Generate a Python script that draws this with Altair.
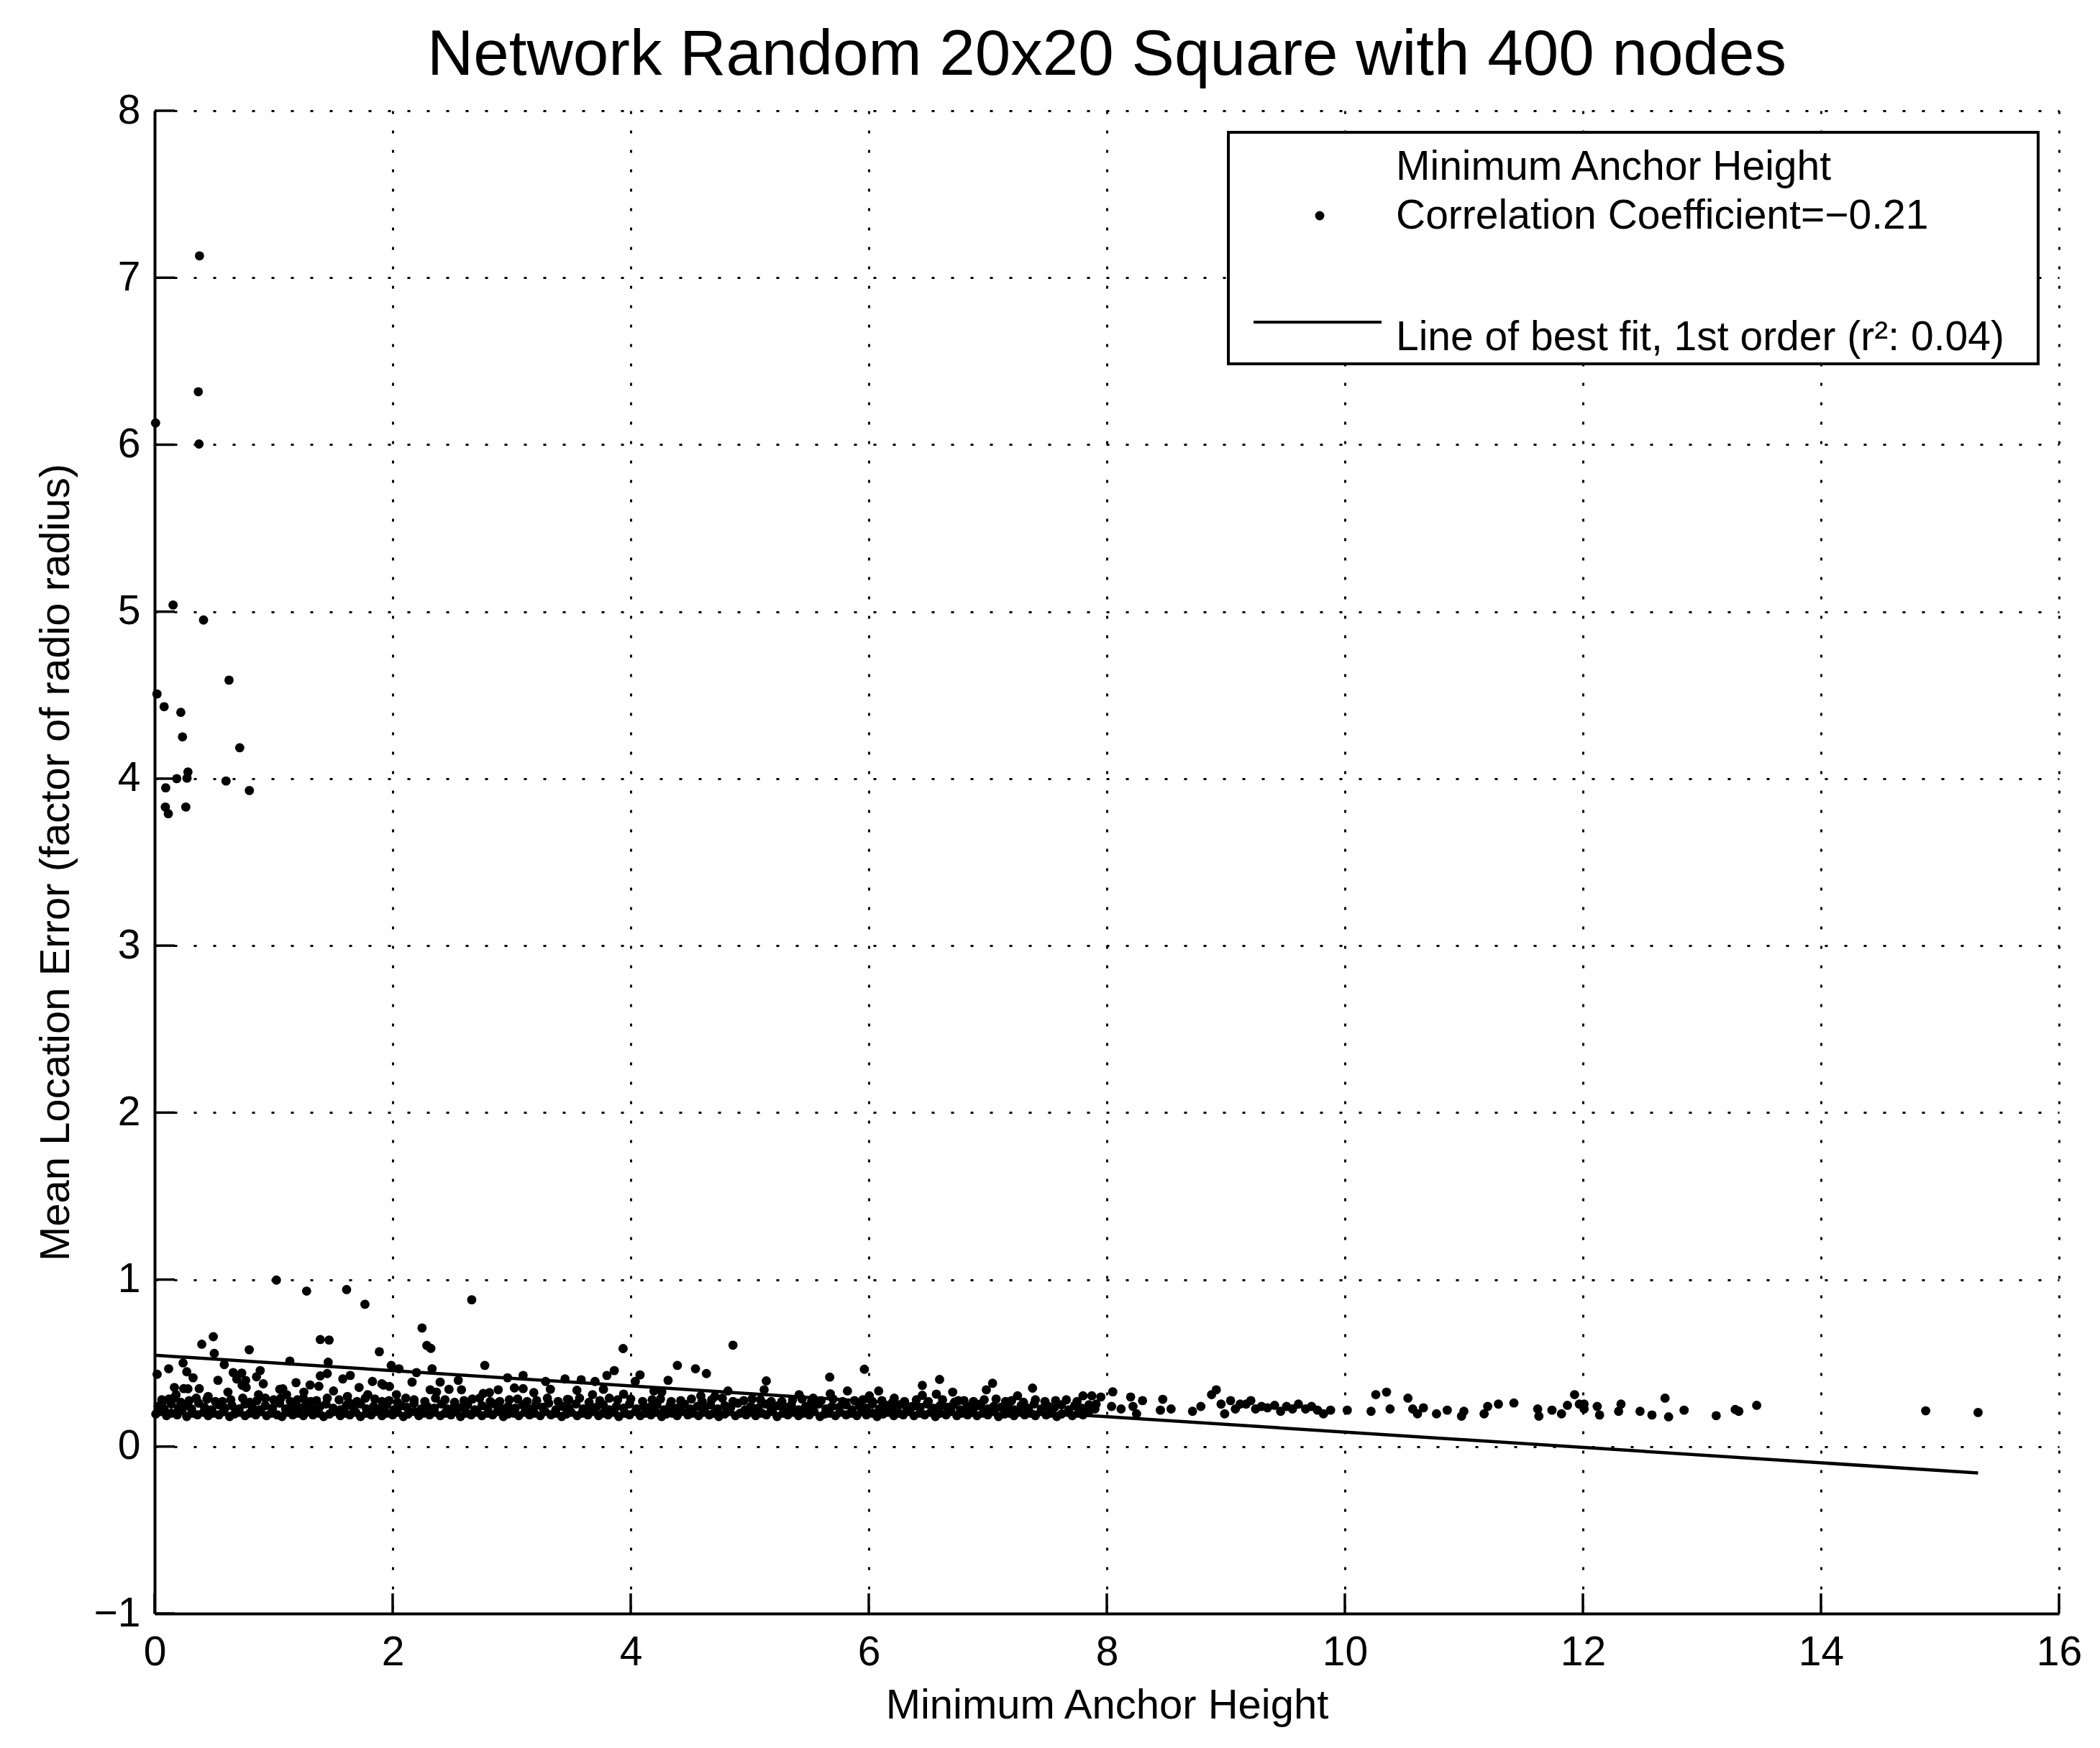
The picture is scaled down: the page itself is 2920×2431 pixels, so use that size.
import altair as alt
import pandas as pd

TITLE = "Network Random 20x20 Square with 400 nodes"
X_TITLE = "Minimum Anchor Height"
Y_TITLE = "Mean Location Error (factor of radio radius)"
LEG_1 = "Minimum Anchor Height"
LEG_2 = "Correlation Coefficient=\u22120.21"
LEG_3 = "Line of best fit, 1st order (r\u00b2: 0.04)"

x_ticks = [0, 2, 4, 6, 8, 10, 12, 14, 16]
y_ticks = [-1, 0, 1, 2, 3, 4, 5, 6, 7, 8]

# line of best fit end points
fit_x = [0.0, 15.32]
fit_y = [0.547, -0.158]

outlier_pts = [
    [0.377, 7.131], [0.367, 6.317], [0.008, 6.130], [0.373, 6.004], [0.155, 5.04],
    [0.411, 4.95], [0.625, 4.59], [0.02, 4.507], [0.08, 4.431], [0.22, 4.397],
    [0.234, 4.25], [0.715, 4.185], [0.28, 4.04], [0.186, 4.00], [0.272, 4.003],
    [0.60, 3.986], [0.093, 3.945], [0.796, 3.929], [0.09, 3.83], [0.262, 3.83],
    [0.115, 3.79],
]

mid_pts = [
    [1.023, 0.997], [1.277, 0.931], [1.613, 0.940], [1.767, 0.852], [2.664, 0.879],
    [2.247, 0.710], [0.493, 0.658], [0.396, 0.613], [1.392, 0.641], [1.466, 0.638],
    [2.287, 0.605], [2.321, 0.588], [0.795, 0.580], [0.501, 0.558], [1.888, 0.568],
    [3.936, 0.587], [1.136, 0.512], [2.774, 0.486], [0.585, 0.491], [0.239, 0.501],
    [1.458, 0.505], [1.988, 0.486], [0.118, 0.466], [0.021, 0.433], [0.27, 0.448],
    [0.66, 0.443], [0.732, 0.440], [0.887, 0.455], [1.45, 0.437], [2.053, 0.466],
    [2.20, 0.443], [2.331, 0.466], [3.862, 0.455], [3.80, 0.426], [0.323, 0.412],
    [1.392, 0.423], [1.644, 0.426], [1.581, 0.405], [1.83, 0.390], [2.965, 0.412],
    [3.096, 0.426], [3.448, 0.405], [3.584, 0.400], [3.70, 0.390], [3.285, 0.390],
    [0.532, 0.397], [0.69, 0.405], [0.913, 0.376], [1.188, 0.383], [1.306, 0.369],
    [1.38, 0.361], [1.909, 0.376], [2.163, 0.386], [2.399, 0.386], [2.551, 0.397],
    [0.166, 0.354], [1.718, 0.354], [0.769, 0.354], [1.254, 0.326], [1.052, 0.343],
    [1.503, 0.333], [2.887, 0.340], [3.023, 0.351], [3.096, 0.347], [2.578, 0.340],
    [2.473, 0.343], [3.186, 0.323], [3.325, 0.343], [3.548, 0.337], [3.771, 0.343],
    [0.616, 0.326], [0.244, 0.347], [0.375, 0.347], [2.032, 0.311], [2.761, 0.318],
    [2.813, 0.323], [3.94, 0.314], [2.315, 0.340], [2.368, 0.326], [0.06, 0.280],
    [1.109, 0.311], [0.873, 0.311], [1.791, 0.311], [3.469, 0.283], [3.679, 0.311],
    [0.735, 0.367], [0.765, 0.396], [0.856, 0.418], [1.077, 0.346], [1.923, 0.368],
    [1.973, 0.360], [0.28, 0.346], [0.18, 0.31], [0.45, 0.30], [1.62, 0.30],
    [4.859, 0.607], [4.392, 0.486], [4.544, 0.466], [4.636, 0.437], [4.314, 0.397],
    [4.078, 0.429], [4.038, 0.390], [5.139, 0.393], [5.672, 0.416], [5.963, 0.463],
    [6.45, 0.366], [6.595, 0.402], [7.04, 0.379], [6.988, 0.340], [7.376, 0.350],
    [6.45, 0.307], [6.568, 0.314], [6.705, 0.326], [4.817, 0.333], [5.121, 0.340],
    [5.415, 0.311], [5.677, 0.316], [5.821, 0.333], [6.083, 0.333], [6.005, 0.304],
    [7.25, 0.304], [7.80, 0.304], [7.874, 0.304], [4.195, 0.333], [4.261, 0.326],
    [4.589, 0.304], [4.707, 0.300], [5.533, 0.290], [6.214, 0.290], [6.752, 0.275],
]

band_low = [
    [0.01, 0.195], [0.05, 0.21], [0.10, 0.185], [0.14, 0.20], [0.19, 0.19], [0.23, 0.215], [0.27, 0.18], [0.32, 0.20], [0.36, 0.19], [0.41, 0.205],
    [0.45, 0.185], [0.49, 0.20], [0.54, 0.19], [0.58, 0.21], [0.63, 0.18], [0.67, 0.195], [0.71, 0.205], [0.76, 0.185], [0.80, 0.20], [0.85, 0.19],
    [0.89, 0.21], [0.94, 0.185], [0.98, 0.20], [1.03, 0.19], [1.07, 0.18], [1.11, 0.205], [1.16, 0.19], [1.20, 0.20], [1.25, 0.185], [1.29, 0.21],
    [1.33, 0.19], [1.38, 0.20], [1.42, 0.18], [1.47, 0.195], [1.51, 0.21], [1.56, 0.185], [1.60, 0.20], [1.64, 0.19], [1.69, 0.205], [1.73, 0.18],
    [1.78, 0.20], [1.82, 0.19], [1.87, 0.21], [1.91, 0.185], [1.95, 0.20], [2.00, 0.19], [2.04, 0.205], [2.09, 0.18], [2.13, 0.195], [2.18, 0.21],
    [2.22, 0.185], [2.26, 0.20], [2.31, 0.19], [2.35, 0.205], [2.40, 0.185], [2.44, 0.20], [2.49, 0.19], [2.53, 0.21], [2.57, 0.18], [2.62, 0.20],
    [2.66, 0.19], [2.71, 0.205], [2.75, 0.185], [2.80, 0.20], [2.84, 0.19], [2.88, 0.21], [2.93, 0.18], [2.97, 0.195], [3.02, 0.20], [3.06, 0.185],
    [3.11, 0.205], [3.15, 0.19], [3.19, 0.20], [3.24, 0.185], [3.28, 0.21], [3.33, 0.19], [3.37, 0.20], [3.42, 0.18], [3.46, 0.195], [3.50, 0.205],
    [3.55, 0.185], [3.59, 0.20], [3.64, 0.19], [3.68, 0.21], [3.73, 0.185], [3.77, 0.20], [3.81, 0.19], [3.86, 0.205], [3.90, 0.18], [3.95, 0.20],
    [3.99, 0.19], [4.04, 0.21], [4.08, 0.185], [4.12, 0.20], [4.17, 0.19], [4.21, 0.205], [4.26, 0.18], [4.30, 0.195], [4.35, 0.20], [4.39, 0.185],
    [4.43, 0.21], [4.48, 0.19], [4.52, 0.20], [4.57, 0.185], [4.61, 0.205], [4.66, 0.19], [4.70, 0.20], [4.74, 0.18], [4.79, 0.195], [4.83, 0.21],
    [4.88, 0.185], [4.92, 0.20], [4.97, 0.19], [5.01, 0.205], [5.05, 0.185], [5.10, 0.20], [5.14, 0.19], [5.19, 0.21], [5.23, 0.18], [5.28, 0.20],
    [5.32, 0.19], [5.36, 0.205], [5.41, 0.185], [5.45, 0.20], [5.50, 0.19], [5.54, 0.21], [5.59, 0.18], [5.63, 0.195], [5.67, 0.20], [5.72, 0.185],
    [5.76, 0.205], [5.81, 0.19], [5.85, 0.20], [5.90, 0.185], [5.94, 0.21], [5.98, 0.19], [6.03, 0.20], [6.07, 0.18], [6.12, 0.195], [6.16, 0.205],
    [6.21, 0.185], [6.25, 0.20], [6.29, 0.19], [6.34, 0.21], [6.38, 0.185], [6.43, 0.20], [6.47, 0.19], [6.52, 0.205], [6.56, 0.18], [6.60, 0.20],
    [6.65, 0.19], [6.69, 0.21], [6.74, 0.185], [6.78, 0.20], [6.83, 0.19], [6.87, 0.205], [6.91, 0.185], [6.96, 0.20], [7.00, 0.19], [7.05, 0.21],
    [7.09, 0.18], [7.14, 0.195], [7.18, 0.20], [7.22, 0.185], [7.27, 0.205], [7.31, 0.19], [7.36, 0.20], [7.40, 0.185], [7.45, 0.21], [7.49, 0.19],
    [7.53, 0.20], [7.58, 0.18], [7.62, 0.195], [7.67, 0.205], [7.71, 0.185], [7.76, 0.20], [7.80, 0.19], [7.85, 0.21],
]

band_mid = [
    [0.03, 0.24], [0.08, 0.225], [0.14, 0.255], [0.20, 0.23], [0.25, 0.245], [0.31, 0.225], [0.37, 0.26], [0.42, 0.235], [0.48, 0.22], [0.54, 0.25],
    [0.59, 0.23], [0.65, 0.245], [0.71, 0.225], [0.76, 0.255], [0.82, 0.235], [0.88, 0.22], [0.93, 0.245], [0.99, 0.23], [1.05, 0.26], [1.10, 0.225],
    [1.16, 0.24], [1.22, 0.23], [1.27, 0.25], [1.33, 0.225], [1.39, 0.24], [1.44, 0.255], [1.50, 0.23], [1.56, 0.22], [1.61, 0.245], [1.67, 0.235],
    [1.73, 0.255], [1.78, 0.225], [1.84, 0.24], [1.90, 0.23], [1.95, 0.25], [2.01, 0.22], [2.07, 0.245], [2.12, 0.235], [2.18, 0.26], [2.24, 0.225],
    [2.29, 0.24], [2.35, 0.23], [2.41, 0.255], [2.46, 0.225], [2.52, 0.24], [2.58, 0.235], [2.63, 0.25], [2.69, 0.22], [2.75, 0.245], [2.80, 0.23],
    [2.86, 0.255], [2.92, 0.225], [2.97, 0.24], [3.03, 0.23], [3.09, 0.25], [3.14, 0.225], [3.20, 0.245], [3.26, 0.235], [3.31, 0.26], [3.37, 0.22],
    [3.43, 0.24], [3.48, 0.23], [3.54, 0.255], [3.60, 0.225], [3.65, 0.245], [3.71, 0.235], [3.77, 0.25], [3.82, 0.22], [3.88, 0.24], [3.94, 0.23],
    [3.99, 0.255], [4.05, 0.225], [4.11, 0.24], [4.16, 0.235], [4.22, 0.25], [4.28, 0.22], [4.33, 0.245], [4.39, 0.23], [4.45, 0.255], [4.50, 0.225],
    [4.56, 0.24], [4.62, 0.23], [4.67, 0.25], [4.73, 0.225], [4.79, 0.245], [4.84, 0.235], [4.90, 0.26], [4.96, 0.22], [5.01, 0.24], [5.07, 0.23],
    [5.13, 0.255], [5.18, 0.225], [5.24, 0.245], [5.30, 0.235], [5.35, 0.25], [5.41, 0.22], [5.47, 0.24], [5.52, 0.23], [5.58, 0.255], [5.64, 0.225],
    [5.69, 0.24], [5.75, 0.235], [5.81, 0.25], [5.86, 0.22], [5.92, 0.245], [5.98, 0.23], [6.03, 0.255], [6.09, 0.225], [6.15, 0.24], [6.20, 0.235],
    [6.26, 0.25], [6.32, 0.22], [6.37, 0.24], [6.43, 0.23], [6.49, 0.255], [6.54, 0.225], [6.60, 0.245], [6.66, 0.235], [6.71, 0.25], [6.77, 0.22],
    [6.83, 0.24], [6.88, 0.23], [6.94, 0.255], [7.00, 0.225], [7.05, 0.24], [7.11, 0.235], [7.17, 0.25], [7.22, 0.22], [7.28, 0.245], [7.34, 0.23],
    [7.39, 0.255], [7.45, 0.225], [7.51, 0.24], [7.56, 0.235], [7.62, 0.25], [7.68, 0.22], [7.73, 0.245], [7.79, 0.23], [7.85, 0.25], [7.90, 0.225],
]

band_top = [
    [0.07, 0.27], [0.12, 0.285], [0.16, 0.29], [0.22, 0.265], [0.29, 0.275], [0.35, 0.29], [0.44, 0.285], [0.51, 0.27], [0.57, 0.27], [0.64, 0.28],
    [0.74, 0.29], [0.80, 0.265], [0.86, 0.275], [0.93, 0.29], [1.00, 0.28], [1.06, 0.29], [1.14, 0.27], [1.20, 0.28], [1.25, 0.29], [1.31, 0.27],
    [1.36, 0.275], [1.45, 0.29], [1.55, 0.28], [1.63, 0.265], [1.70, 0.27], [1.77, 0.29], [1.85, 0.285], [1.91, 0.27], [1.97, 0.275], [2.04, 0.265],
    [2.11, 0.29], [2.18, 0.28], [2.27, 0.27], [2.36, 0.29], [2.44, 0.28], [2.52, 0.265], [2.60, 0.275], [2.67, 0.285], [2.73, 0.29], [2.82, 0.27],
    [2.90, 0.27], [2.98, 0.28], [3.05, 0.285], [3.13, 0.27], [3.21, 0.275], [3.30, 0.29], [3.39, 0.27], [3.48, 0.28], [3.57, 0.29], [3.65, 0.265],
    [3.74, 0.275], [3.82, 0.29], [3.89, 0.28], [4.00, 0.285], [4.10, 0.27], [4.18, 0.28], [4.25, 0.285], [4.34, 0.27], [4.42, 0.275], [4.51, 0.285],
    [4.60, 0.27], [4.68, 0.28], [4.77, 0.29], [4.86, 0.27], [4.95, 0.275], [5.02, 0.285], [5.09, 0.28], [5.18, 0.27], [5.27, 0.27], [5.36, 0.28],
    [5.44, 0.285], [5.52, 0.27], [5.60, 0.275], [5.70, 0.285], [5.78, 0.27], [5.88, 0.275], [5.95, 0.28], [6.03, 0.27], [6.11, 0.275], [6.20, 0.265],
    [6.30, 0.27], [6.40, 0.28], [6.50, 0.27], [6.62, 0.28], [6.72, 0.265], [6.80, 0.275], [6.88, 0.27], [6.97, 0.28], [7.07, 0.285], [7.15, 0.27],
    [7.20, 0.275], [7.30, 0.265], [7.40, 0.28], [7.48, 0.27], [7.57, 0.275], [7.66, 0.28], [7.75, 0.27],
]

tail_pts = [
    [7.91, 0.254], [7.95, 0.297], [8.05, 0.328], [8.04, 0.24], [8.12, 0.225], [8.20, 0.297], [8.22, 0.24], [8.30, 0.275], [8.25, 0.196], [8.47, 0.283],
    [8.45, 0.218], [8.54, 0.225], [8.72, 0.211], [8.79, 0.24], [8.88, 0.311], [8.92, 0.34], [8.96, 0.254], [8.99, 0.196], [9.04, 0.275], [9.08, 0.225],
    [9.12, 0.254], [9.17, 0.254], [9.21, 0.275], [9.25, 0.225], [9.30, 0.24], [9.35, 0.232], [9.41, 0.247], [9.46, 0.211], [9.51, 0.24], [9.56, 0.225],
    [9.61, 0.254], [9.67, 0.225], [9.72, 0.24], [9.77, 0.218], [9.82, 0.196], [9.88, 0.218], [10.02, 0.218], [10.22, 0.211], [10.26, 0.311], [10.35, 0.326],
    [10.38, 0.225], [10.53, 0.29], [10.57, 0.225], [10.61, 0.196], [10.66, 0.232], [10.77, 0.196], [10.86, 0.218], [10.98, 0.182], [11.00, 0.211], [11.17, 0.196],
    [11.20, 0.24], [11.29, 0.254], [11.42, 0.261], [11.62, 0.225], [11.63, 0.182], [11.74, 0.218], [11.82, 0.196], [11.87, 0.247], [11.93, 0.311], [11.97, 0.254],
    [12.01, 0.254], [12.01, 0.225], [12.12, 0.24], [12.14, 0.189], [12.30, 0.211], [12.32, 0.254], [12.48, 0.211], [12.58, 0.189], [12.69, 0.29], [12.72, 0.178],
    [12.85, 0.218], [13.12, 0.185], [13.28, 0.222], [13.31, 0.211], [13.46, 0.247], [14.88, 0.214], [15.32, 0.204],
]

FONT = "Liberation Sans"
W, H = 2648, 2090
DOT = 165

all_pts = outlier_pts + mid_pts + band_low + band_mid + band_top + tail_pts
pts = pd.DataFrame(all_pts, columns=["x", "y"])
fit = pd.DataFrame({"x": fit_x, "y": fit_y})
xt = pd.DataFrame({"x": x_ticks})
yt = pd.DataFrame({"y": y_ticks})
one = pd.DataFrame({"k": [0]})

xs = alt.Scale(domain=[0, 16], nice=False, zero=False)
ys = alt.Scale(domain=[-1, 8], nice=False, zero=False)

x_axis = alt.Axis(
    values=x_ticks, format="d", title=X_TITLE, ticks=False,
    grid=True, gridColor="black", gridDash=[4, 23], gridWidth=3, gridOpacity=1,
    domainColor="black", domainWidth=4,
    labelFont=FONT, labelFontSize=57, labelColor="black", labelPadding=26,
    labelFlush=False, labelOverlap=False,
    titleFont=FONT, titleFontSize=58, titleFontWeight="normal", titleColor="black",
    titleX=W / 2, titleY=145, titleBaseline="alphabetic", titleAlign="center",
)
y_axis = alt.Axis(
    values=y_ticks, format="d", title=Y_TITLE, ticks=False,
    grid=True, gridColor="black", gridDash=[4, 23], gridWidth=3, gridOpacity=1,
    domainColor="black", domainWidth=4,
    labelFont=FONT, labelFontSize=57, labelColor="black", labelPadding=20,
    labelFlush=False, labelOverlap=False,
    titleFont=FONT, titleFontSize=58, titleFontWeight="normal", titleColor="black",
    titleX=-120, titleY=H / 2, titleAngle=270, titleBaseline="alphabetic", titleAlign="center",
)

points = alt.Chart(pts).mark_circle(size=DOT, color="black", opacity=1).encode(
    x=alt.X("x:Q", scale=xs, axis=x_axis),
    y=alt.Y("y:Q", scale=ys, axis=y_axis),
)

line = alt.Chart(fit).mark_line(color="black", strokeWidth=4.5).encode(
    x=alt.X("x:Q", scale=xs),
    y=alt.Y("y:Q", scale=ys),
)

yticks = alt.Chart(yt).mark_rule(color="black", strokeWidth=3.5).encode(
    y=alt.Y("y:Q", scale=ys),
    x=alt.value(0), x2=alt.value(28),
)
xticks = alt.Chart(xt).mark_rule(color="black", strokeWidth=3.5).encode(
    x=alt.X("x:Q", scale=xs),
    y=alt.value(H), y2=alt.value(H - 28),
)

leg_box = alt.Chart(one).mark_rect(fill="white", stroke="black", strokeWidth=4).encode(
    x=alt.value(1493), x2=alt.value(2619), y=alt.value(30), y2=alt.value(352)
)
leg_dot = alt.Chart(one).mark_circle(size=DOT, color="black", opacity=1).encode(
    x=alt.value(1620), y=alt.value(146)
)
leg_line = alt.Chart(one).mark_rule(color="black", strokeWidth=4).encode(
    x=alt.value(1528), x2=alt.value(1706), y=alt.value(294)
)


def free_text(txt, xpos, ypos, size, align="left"):
    return alt.Chart(one).mark_text(
        align=align, baseline="alphabetic", font=FONT, fontSize=size, color="black"
    ).encode(x=alt.value(xpos), y=alt.value(ypos), text=alt.value(txt))


chart = alt.layer(
    points, line, yticks, xticks, leg_box, leg_dot, leg_line,
    free_text(LEG_1, 1726, 96, 57), free_text(LEG_2, 1726, 164, 57),
    free_text(LEG_3, 1726, 333, 57),
    free_text(TITLE, W / 2, -50, 89, align="center"),
).properties(
    width=W, height=H,
    padding={"left": 207, "top": 146, "right": 40, "bottom": 170},
    autosize=alt.AutoSizeParams(type="none"),
    background="white",
).configure_view(strokeWidth=0)

chart.save("out.html", embed_options={"renderer": "svg", "actions": False})
